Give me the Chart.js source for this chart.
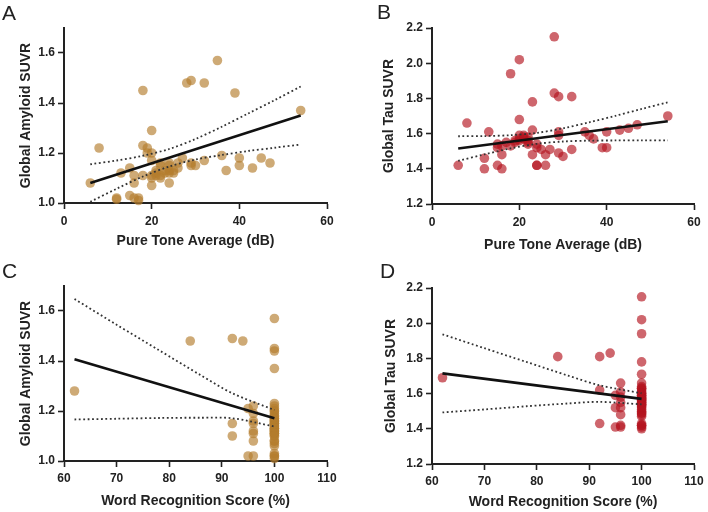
<!DOCTYPE html>
<html>
<head>
<meta charset="utf-8">
<script src="https://cdn.jsdelivr.net/npm/chart.js@4.4.0/dist/chart.umd.min.js"></script>
<style>
  body { margin: 0; background: #fff; }
  #wrap { position: relative; width: 708px; height: 512px; overflow: hidden; }
  canvas { position: absolute; }
  .lbl { position: absolute; font: 21px 'Liberation Sans', Arial, sans-serif; line-height: 1; color: #222; }
</style>
</head>
<body>
<div id="wrap">
  <canvas id="chartA" width="354" height="256" style="left:0;top:0"></canvas>
  <canvas id="chartB" width="354" height="256" style="left:354px;top:0"></canvas>
  <canvas id="chartC" width="354" height="256" style="left:0;top:256px"></canvas>
  <canvas id="chartD" width="354" height="256" style="left:354px;top:256px"></canvas>
  <div class="lbl" style="left:2px;top:2px">A</div>
  <div class="lbl" style="left:377px;top:1px">B</div>
  <div class="lbl" style="left:2px;top:260px">C</div>
  <div class="lbl" style="left:380px;top:260px">D</div>
</div>
<script>
// ---- data ----

// A: pure tone average vs global amyloid
const ptaA = [6, 8, 12, 12, 13, 15, 15, 16, 16, 16, 17, 17, 18, 18, 18, 19, 19, 20, 20, 20, 20, 20, 20,
  21, 21, 21, 22, 22, 22, 22, 23, 23, 24, 24, 24, 24, 24, 25, 25, 26, 26, 27, 28, 29, 29, 29, 30,
  32, 32, 35, 36, 37, 39, 40, 40, 43, 45, 47, 54];
const amyA = [1.08, 1.22, 1.02, 1.015, 1.12, 1.14, 1.03, 1.11, 1.08, 1.02, 1.02, 1.01, 1.45, 1.23, 1.11, 1.22, 1.20,
  1.29, 1.20, 1.17, 1.11, 1.10, 1.07, 1.12, 1.11, 1.13, 1.16, 1.15, 1.11, 1.10, 1.13, 1.12, 1.16, 1.15, 1.13,
  1.12, 1.08, 1.13, 1.12, 1.16, 1.14, 1.18, 1.48, 1.49, 1.16, 1.15, 1.15, 1.48, 1.17, 1.57, 1.19, 1.13, 1.44,
  1.18, 1.15, 1.14, 1.18, 1.16, 1.37];
const fitXA = [6, 54];
const fitYA = [1.08, 1.35];
const bandXA = [6, 12, 18, 24, 30, 36, 42, 48, 54];
const upperA = [1.155, 1.170, 1.189, 1.216, 1.256, 1.305, 1.358, 1.411, 1.466];
const lowerA = [1.005, 1.057, 1.106, 1.146, 1.174, 1.192, 1.208, 1.221, 1.234];

// B: pure tone average vs global tau
const ptaB = [6, 8, 12, 12, 13, 15, 15, 15, 16, 16, 16, 17, 18, 18, 19, 19, 20, 20, 20, 20, 20, 21, 21, 21,
  22, 22, 22, 22, 23, 23, 23, 24, 24, 24, 24, 25, 26, 26, 27, 28, 28, 29, 29, 29, 29, 30, 32, 32, 35, 36,
  37, 39, 40, 40, 43, 45, 47, 54];
const tauB = [1.42, 1.66, 1.46, 1.40, 1.61, 1.42, 1.52, 1.54, 1.48, 1.40, 1.53, 1.55, 1.94, 1.53, 1.55, 1.56,
  2.02, 1.68, 1.59, 1.57, 1.56, 1.58, 1.57, 1.59, 1.58, 1.56, 1.55, 1.54, 1.78, 1.62, 1.48, 1.54, 1.52, 1.42,
  1.42, 1.51, 1.42, 1.48, 1.51, 2.15, 1.83, 1.81, 1.61, 1.59, 1.49, 1.47, 1.81, 1.51, 1.61, 1.59, 1.57, 1.52,
  1.52, 1.61, 1.62, 1.63, 1.65, 1.70];
const fitXB = [6, 54];
const fitYB = [1.515, 1.67];
const bandXB = [6, 12, 18, 24, 30, 36, 42, 48, 54];
const upperB = [1.585, 1.586, 1.591, 1.604, 1.630, 1.664, 1.701, 1.740, 1.778];
const lowerB = [1.445, 1.482, 1.516, 1.542, 1.555, 1.560, 1.561, 1.562, 1.561];

// C: word recognition score vs global amyloid
const wrsC = [62, 84, 92, 92, 92, 94, 95, 95, 96, 96, 96, 96, 96, 96, 96, 96,
  100, 100, 100, 100, 100, 100, 100, 100, 100, 100, 100, 100, 100, 100, 100, 100, 100, 100, 100, 100, 100, 100,
  100, 100, 100, 100, 100, 100, 100, 100, 100, 100, 100, 100, 100, 100, 100, 100, 100, 100, 100];
const amyC = [1.28, 1.48, 1.49, 1.15, 1.10, 1.48, 1.21, 1.02, 1.22, 1.19, 1.16, 1.15, 1.12, 1.11, 1.08, 1.02,
  1.57, 1.45, 1.44, 1.37, 1.23, 1.22, 1.21, 1.20, 1.20, 1.19, 1.18, 1.18, 1.17, 1.17, 1.16, 1.16, 1.16, 1.15,
  1.15, 1.15, 1.14, 1.14, 1.13, 1.13, 1.13, 1.12, 1.12, 1.12, 1.11, 1.11, 1.11, 1.10, 1.10, 1.08, 1.08, 1.07,
  1.06, 1.03, 1.02, 1.02, 1.01];
const fitXC = [62, 100];
const fitYC = [1.407, 1.171];
const bandXC = [62, 70, 78, 86, 92, 100];
const upperC = [1.648, 1.545, 1.444, 1.343, 1.271, 1.204];
const lowerC = [1.166, 1.169, 1.172, 1.173, 1.171, 1.138];

// D: word recognition score vs global tau
const wrsD = [62, 84, 92, 92, 92, 94, 95, 95, 95, 96, 96, 96, 96, 96, 96, 96, 96,
  100, 100, 100, 100, 100, 100, 100, 100, 100, 100, 100, 100, 100, 100, 100, 100, 100, 100, 100, 100,
  100, 100, 100, 100, 100, 100, 100, 100, 100, 100, 100, 100, 100, 100, 100, 100, 100, 100, 100, 100];
const tauD = [1.69, 1.81, 1.81, 1.62, 1.43, 1.83, 1.52, 1.41, 1.59, 1.66, 1.61, 1.58, 1.55, 1.52, 1.48, 1.42, 1.41,
  2.15, 2.02, 1.94, 1.78, 1.71, 1.66, 1.64, 1.63, 1.63, 1.62, 1.61, 1.60, 1.60, 1.59, 1.59, 1.58, 1.58, 1.57,
  1.57, 1.57, 1.56, 1.56, 1.55, 1.55, 1.54, 1.54, 1.53, 1.53, 1.52, 1.51, 1.50, 1.49, 1.49, 1.48, 1.47, 1.43,
  1.42, 1.42, 1.41, 1.40];
const fitXD = [62, 100];
const fitYD = [1.715, 1.57];
const bandXD = [62, 70, 78, 86, 92, 100];
const upperD = [1.937, 1.858, 1.780, 1.702, 1.647, 1.602];
const lowerD = [1.493, 1.510, 1.528, 1.544, 1.553, 1.539];

// ---- drawing ----

Chart.defaults.font.family = "'Liberation Sans', Arial, Helvetica, sans-serif";
Chart.defaults.color = '#222';

const tan = 'rgba(180, 125, 45, 0.65)';
const red = 'rgba(180, 20, 30, 0.65)';

function toPoints(xs, ys) {
  return xs.map((x, i) => ({ x: x, y: ys[i] }));
}

function axisStyle() {
  return {
    grid: { display: true, drawOnChartArea: false, drawTicks: true, tickLength: 6, tickWidth: 1.6, tickColor: '#222' },
    border: { display: true, color: '#222', width: 2 }
  };
}

function makePanel(id, p) {
  new Chart(document.getElementById(id), {
    type: 'scatter',
    data: {
      datasets: [
        { data: toPoints(p.fitX, p.fitY), showLine: true, borderColor: '#111', borderWidth: 2.6, pointRadius: 0 },
        { data: toPoints(p.bandX, p.upper), showLine: true, borderColor: '#333', borderWidth: 1.8,
          borderDash: [1.8, 2.6], pointRadius: 0, tension: 0.3 },
        { data: toPoints(p.bandX, p.lower), showLine: true, borderColor: '#333', borderWidth: 1.8,
          borderDash: [1.8, 2.6], pointRadius: 0, tension: 0.3 },
        { data: toPoints(p.x, p.y), backgroundColor: p.color, borderWidth: 0, pointRadius: 4.8, clip: false }
      ]
    },
    options: {
      responsive: false,
      animation: false,
      layout: { padding: { left: 0, right: p.right, top: p.top, bottom: 0 } },
      plugins: { legend: { display: false }, tooltip: { enabled: false } },
      scales: {
        x: Object.assign(axisStyle(), {
          type: 'linear', min: p.xMin, max: p.xMax,
          ticks: { stepSize: p.xStep, padding: p.xTickPad, includeBounds: false, color: '#222',
            font: { size: 12, weight: 'bold' } },
          title: { display: true, text: p.xTitle, color: '#222', font: { size: 14, weight: 'bold' },
            padding: { top: 0, bottom: p.xTitlePad } },
          afterFit: (s) => { s.height = p.xHeight; }
        }),
        y: Object.assign(axisStyle(), {
          type: 'linear', min: p.yMin, max: p.yMax,
          ticks: { stepSize: 0.2, padding: 3, includeBounds: false, color: '#222',
            font: { size: 12, weight: 'bold' }, callback: (v) => v.toFixed(1) },
          title: { display: true, text: p.yTitle, color: '#222', font: { size: 14, weight: 'bold' },
            padding: { top: p.yTitlePad, bottom: 0 } },
          afterFit: (s) => { s.width = p.yWidth; }
        })
      }
    }
  });
}

makePanel('chartA', {
  x: ptaA, y: amyA, fitX: fitXA, fitY: fitYA, bandX: bandXA, upper: upperA, lower: lowerA, color: tan,
  xMin: 0, xMax: 60, xStep: 20, yMin: 1.0, yMax: 1.7,
  xTitle: 'Pure Tone Average (dB)', yTitle: 'Global Amyloid SUVR',
  top: 28, right: 27, yWidth: 64, xHeight: 53, xTickPad: 5, xTitlePad: 6.5, yTitlePad: 18
});

makePanel('chartB', {
  x: ptaB, y: tauB, fitX: fitXB, fitY: fitYB, bandX: bandXB, upper: upperB, lower: lowerB, color: red,
  xMin: 0, xMax: 60, xStep: 20, yMin: 1.2, yMax: 2.2,
  xTitle: 'Pure Tone Average (dB)', yTitle: 'Global Tau SUVR',
  top: 28, right: 14, yWidth: 78, xHeight: 52, xTickPad: 5, xTitlePad: 2.5, yTitlePad: 27
});

makePanel('chartC', {
  x: wrsC, y: amyC, fitX: fitXC, fitY: fitYC, bandX: bandXC, upper: upperC, lower: lowerC, color: tan,
  xMin: 60, xMax: 110, xStep: 10, yMin: 1.0, yMax: 1.7,
  xTitle: 'Word Recognition Score (%)', yTitle: 'Global Amyloid SUVR',
  top: 30, right: 27, yWidth: 64, xHeight: 51, xTickPad: 4, xTitlePad: 2.5, yTitlePad: 17.5
});

makePanel('chartD', {
  x: wrsD, y: tauD, fitX: fitXD, fitY: fitYD, bandX: bandXD, upper: upperD, lower: lowerD, color: red,
  xMin: 60, xMax: 110, xStep: 10, yMin: 1.2, yMax: 2.2,
  xTitle: 'Word Recognition Score (%)', yTitle: 'Global Tau SUVR',
  top: 32, right: 14, yWidth: 78, xHeight: 48, xTickPad: 4, xTitlePad: 1, yTitlePad: 29
});
</script>
</body>
</html>
